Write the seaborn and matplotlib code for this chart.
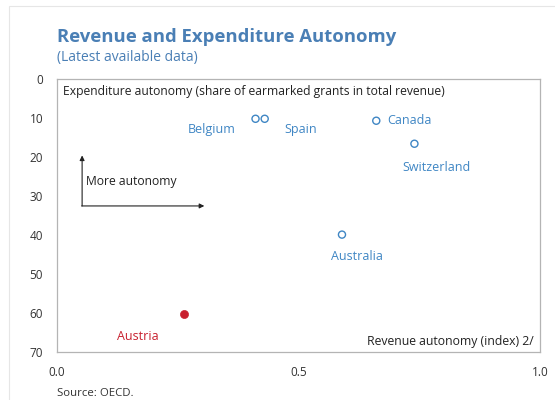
import pandas as pd
import matplotlib.pyplot as plt
import seaborn as sns
from matplotlib.patches import Rectangle

# Datos
paises = ["Belgium", "Spain", "Canada", "Switzerland", "Australia", "Austria"]
autonomia_ingresos = [0.411, 0.430, 0.661, 0.740, 0.590, 0.262]
autonomia_gasto = [10.2, 10.2, 10.7, 16.6, 39.9, 60.3]
grupo = ["otros", "otros", "otros", "otros", "otros", "Austria"]

y_ticks = [0, 10, 20, 30, 40, 50, 60, 70]
x_ticks = [0.0, 0.5, 1.0]
x_tick_labels = ["0.0", "0.5", "1.0"]

# Posición de cada etiqueta respecto a su punto (en datos)
etiquetas = {
    "Belgium": (-0.09, 2.7),
    "Spain": (0.075, 2.7),
    "Canada": (0.069, 0.0),
    "Switzerland": (0.045, 6.1),
    "Australia": (0.03, 5.7),
    "Austria": (-0.095, 5.6),
}

AZUL = "#3f86c4"
ROJO = "#c8202f"
TITULO = "#4a7fb5"
GRIS = "#b4b4b4"
NEGRO = "#222222"

df = pd.DataFrame({"pais": paises, "x": autonomia_ingresos,
                   "y": autonomia_gasto, "grupo": grupo})

sns.set_theme(style="white")
plt.rcParams["font.family"] = ["Open Sans", "DejaVu Sans"]

fig = plt.figure(figsize=(5.55, 4.0), dpi=100)
ax = fig.add_axes([0.1027, 0.12, 0.8703, 0.6825])

otros = df[df["grupo"] == "otros"]
austria = df[df["grupo"] == "Austria"]
sns.scatterplot(data=otros, x="x", y="y", ax=ax, s=26, marker="o",
                facecolors="none", edgecolor=AZUL, linewidth=1.0, legend=False)
sns.scatterplot(data=austria, x="x", y="y", ax=ax, s=34, marker="o",
                color=ROJO, edgecolor=ROJO, legend=False)

for _, fila in df.iterrows():
    dx, dy = etiquetas[fila["pais"]]
    color = ROJO if fila["grupo"] == "Austria" else AZUL
    ax.text(fila["x"] + dx, fila["y"] + dy, fila["pais"], color=color,
            fontsize=9, ha="center", va="center")

ax.set_xlim(0, 1)
ax.set_ylim(70, 0)
ax.set_xticks(x_ticks)
ax.set_xticklabels(x_tick_labels)
ax.set_yticks(y_ticks)
ax.tick_params(axis="both", length=0, labelsize=8.5, colors="#333333")
ax.tick_params(axis="y", pad=10)
ax.tick_params(axis="x", pad=10)
ax.set_xlabel("")
ax.set_ylabel("")
for lado in ax.spines.values():
    lado.set_color(GRIS)
    lado.set_linewidth(0.9)

ax.text(0.012, 0.955, "Expenditure autonomy (share of earmarked grants in total revenue)",
        transform=ax.transAxes, fontsize=8.7, color=NEGRO, va="center", ha="left")
ax.text(0.986, 0.04, "Revenue autonomy (index) 2/", transform=ax.transAxes,
        fontsize=8.8, color=NEGRO, va="center", ha="right")

# Flechas de "More autonomy"
flecha = dict(arrowstyle="-|>", color=NEGRO, lw=0.8, mutation_scale=7,
              shrinkA=0, shrinkB=0)
ax.annotate("", xy=(0.305, 0.535), xytext=(0.051, 0.535),
            xycoords="axes fraction", arrowprops=flecha)
ax.annotate("", xy=(0.052, 0.72), xytext=(0.052, 0.535),
            xycoords="axes fraction", arrowprops=flecha)
ax.text(0.061, 0.625, "More autonomy", transform=ax.transAxes,
        fontsize=8.7, color=NEGRO, va="center", ha="left")

# Títulos y fuente
fig.text(0.1027, 0.908, "Revenue and Expenditure Autonomy", fontsize=13.3,
         fontweight="bold", color=TITULO, va="center", ha="left")
fig.text(0.1027, 0.855, "(Latest available data)", fontsize=10,
         color=TITULO, va="center", ha="left")
fig.text(0.1027, 0.017, "Source: OECD.", fontsize=8.2, color="#333333",
         va="center", ha="left")

# Marco exterior gris claro
fig.patches.append(Rectangle((9 / 555, -0.1), 1.2, 1.1 - 6 / 400,
                             transform=fig.transFigure, fill=False,
                             edgecolor="#e6e6e6", lw=0.8))

fig.savefig("out.png", dpi=100)
plt.close(fig)
